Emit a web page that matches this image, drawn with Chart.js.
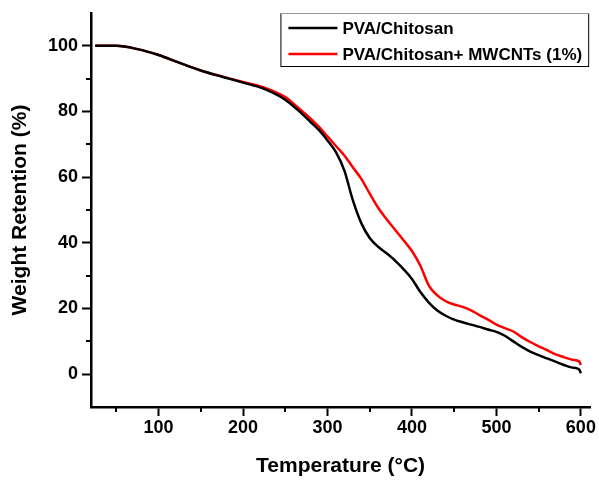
<!DOCTYPE html>
<html>
<head>
<meta charset="utf-8">
<script src="https://cdn.jsdelivr.net/npm/chart.js@4.4.1/dist/chart.umd.min.js"></script>
<style>
  body { margin: 0; background: #fff; }
  #wrap { width: 599px; height: 481px; }
</style>
</head>
<body>
<div id="wrap"><canvas id="tgaChart" width="599" height="481"></canvas></div>
<script>
// TGA curves
var temps = [25, 50, 75, 100, 125, 150, 175, 200, 225, 250, 265, 280, 290, 300, 310, 320, 330, 340, 350, 360, 370, 380, 390, 400, 410, 420, 430, 440, 450, 460, 470, 480, 490, 500, 510, 520, 530, 540, 550, 560, 570, 580, 590, 598, 600];
var pvaChitosan = [100, 100, 99.0, 97.2, 94.8, 92.5, 90.6, 88.8, 86.9, 83.6, 80.4, 76.8, 74.3, 71.2, 67.6, 62.0, 53.0, 46.0, 41.5, 38.8, 36.8, 34.6, 32.0, 29.0, 25.0, 21.8, 19.4, 17.8, 16.6, 15.8, 15.1, 14.4, 13.6, 12.9, 11.7, 10.0, 8.3, 6.9, 5.8, 4.8, 3.8, 2.8, 2.0, 1.4, 0.3];
var pvaChitosanCnt = [100, 100, 99.0, 97.2, 94.8, 92.5, 90.7, 89.0, 87.3, 84.4, 81.2, 77.8, 75.3, 72.4, 69.5, 66.6, 63.0, 59.5, 55.0, 50.7, 47.2, 44.0, 40.8, 37.5, 33.0, 27.0, 24.0, 22.2, 21.2, 20.5, 19.4, 18.0, 16.6, 15.1, 14.0, 13.0, 11.3, 9.8, 8.5, 7.3, 6.0, 5.2, 4.4, 3.9, 2.8];
var seriesNames = ["PVA/Chitosan", "PVA/Chitosan+ MWCNTs (1%)"];
var xTicks = [100, 200, 300, 400, 500, 600];
var yTicks = [0, 20, 40, 60, 80, 100];

function toPoints(vals) {
    return temps.map(function (t, i) { return { x: t, y: vals[i] }; });
}

var FONT = "'Liberation Sans', Arial, sans-serif";

// short minor ticks half way between the major ones
var minorTicks = {
    id: 'minorTicks',
    afterDraw: function (chart) {
        var ctx = chart.ctx;
        var xs = chart.scales.x, ys = chart.scales.y;
        ctx.save();
        ctx.strokeStyle = '#000';
        ctx.lineWidth = 2;
        ctx.beginPath();
        for (var i = 0; i < xTicks.length; i++) {
            var v = xTicks[i] - 50;
            if (v < xs.min) continue;
            var px = Math.round(xs.getPixelForValue(v));
            ctx.moveTo(px, ys.bottom);
            ctx.lineTo(px, ys.bottom + 5);
        }
        for (var j = 0; j < yTicks.length - 1; j++) {
            var py = Math.round(ys.getPixelForValue(yTicks[j] + 10));
            ctx.moveTo(xs.left, py);
            ctx.lineTo(xs.left - 5, py);
        }
        ctx.stroke();
        ctx.restore();
    }
};

// boxed legend in the top right corner of the plot
var boxLegend = {
    id: 'boxLegend',
    afterDraw: function (chart) {
        var ctx = chart.ctx;
        var area = chart.chartArea;
        ctx.save();
        ctx.font = 'bold 17px ' + FONT;
        var w = 0;
        chart.data.datasets.forEach(function (ds) {
            w = Math.max(w, ctx.measureText(ds.label).width);
        });
        var boxW = 8 + 49 + 5 + w + 6;
        var boxH = 53;
        var left = area.right - 2 - boxW, top = area.top;
        ctx.fillStyle = '#fff';
        ctx.fillRect(left, top, boxW, boxH);
        ctx.strokeStyle = '#000';
        ctx.lineWidth = 1;
        ctx.strokeRect(left + 0.5, top + 0.5, boxW, boxH);
        ctx.strokeStyle = '#999';
        ctx.beginPath();
        ctx.moveTo(left, top + 0.5);
        ctx.lineTo(left + boxW + 1, top + 0.5);
        ctx.stroke();
        ctx.textBaseline = 'middle';
        chart.data.datasets.forEach(function (ds, i) {
            var y = top + 15 + i * 26;
            ctx.strokeStyle = ds.borderColor;
            ctx.lineWidth = 2.5;
            ctx.beginPath();
            ctx.moveTo(left + 8, y);
            ctx.lineTo(left + 57, y);
            ctx.stroke();
            ctx.fillStyle = '#000';
            ctx.fillText(ds.label, left + 62, y + 1);
        });
        ctx.restore();
    }
};

var ctx = document.getElementById('tgaChart').getContext('2d');

var tgaChart = new Chart(ctx, {
    type: 'scatter',
    data: {
        datasets: [{
            label: seriesNames[0],
            data: toPoints(pvaChitosan),
            borderColor: '#000000',
            borderWidth: 2.5,
            showLine: true,
            pointRadius: 0,
            cubicInterpolationMode: 'monotone'
        }, {
            label: seriesNames[1],
            data: toPoints(pvaChitosanCnt),
            borderColor: '#ff0000',
            borderWidth: 2.5,
            showLine: true,
            pointRadius: 0,
            cubicInterpolationMode: 'monotone'
        }]
    },
    options: {
        responsive: false,
        animation: false,
        layout: { padding: { top: 8, right: 6, left: 0, bottom: 0 } },
        plugins: {
            legend: { display: false },
            tooltip: { enabled: false }
        },
        scales: {
            x: {
                type: 'linear',
                min: 20,
                max: 611,
                afterBuildTicks: function (scale) {
                    scale.ticks = xTicks.map(function (v) { return { value: v }; });
                },
                afterFit: function (scale) { scale.height = 74; },
                border: { display: true, color: '#000', width: 2.5 },
                grid: { drawOnChartArea: false, drawTicks: true, tickLength: 9, tickWidth: 2, tickColor: '#000' },
                ticks: {
                    color: '#000',
                    padding: 3,
                    maxRotation: 0,
                    font: { family: FONT, size: 18, weight: 'bold', lineHeight: 1 }
                },
                title: {
                    display: true,
                    text: 'Temperature (°C)',
                    color: '#000',
                    padding: { top: 0, bottom: 2 },
                    font: { family: FONT, size: 21, weight: 'bold', lineHeight: 1.2 }
                }
            },
            y: {
                type: 'linear',
                min: -10,
                max: 110,
                afterBuildTicks: function (scale) {
                    scale.ticks = yTicks.map(function (v) { return { value: v }; });
                },
                afterFit: function (scale) { scale.width = 91; },
                border: { display: true, color: '#000', width: 2.5 },
                grid: { drawOnChartArea: false, drawTicks: true, tickLength: 9, tickWidth: 2, tickColor: '#000' },
                ticks: {
                    color: '#000',
                    padding: 4,
                    font: { family: FONT, size: 18, weight: 'bold', lineHeight: 1 }
                },
                title: {
                    display: true,
                    text: 'Weight Retention (%)',
                    color: '#000',
                    padding: { top: 8, bottom: 0 },
                    font: { family: FONT, size: 21, weight: 'bold', lineHeight: 1.2 }
                }
            }
        }
    },
    plugins: [minorTicks, boxLegend]
});
</script>
</body>
</html>
